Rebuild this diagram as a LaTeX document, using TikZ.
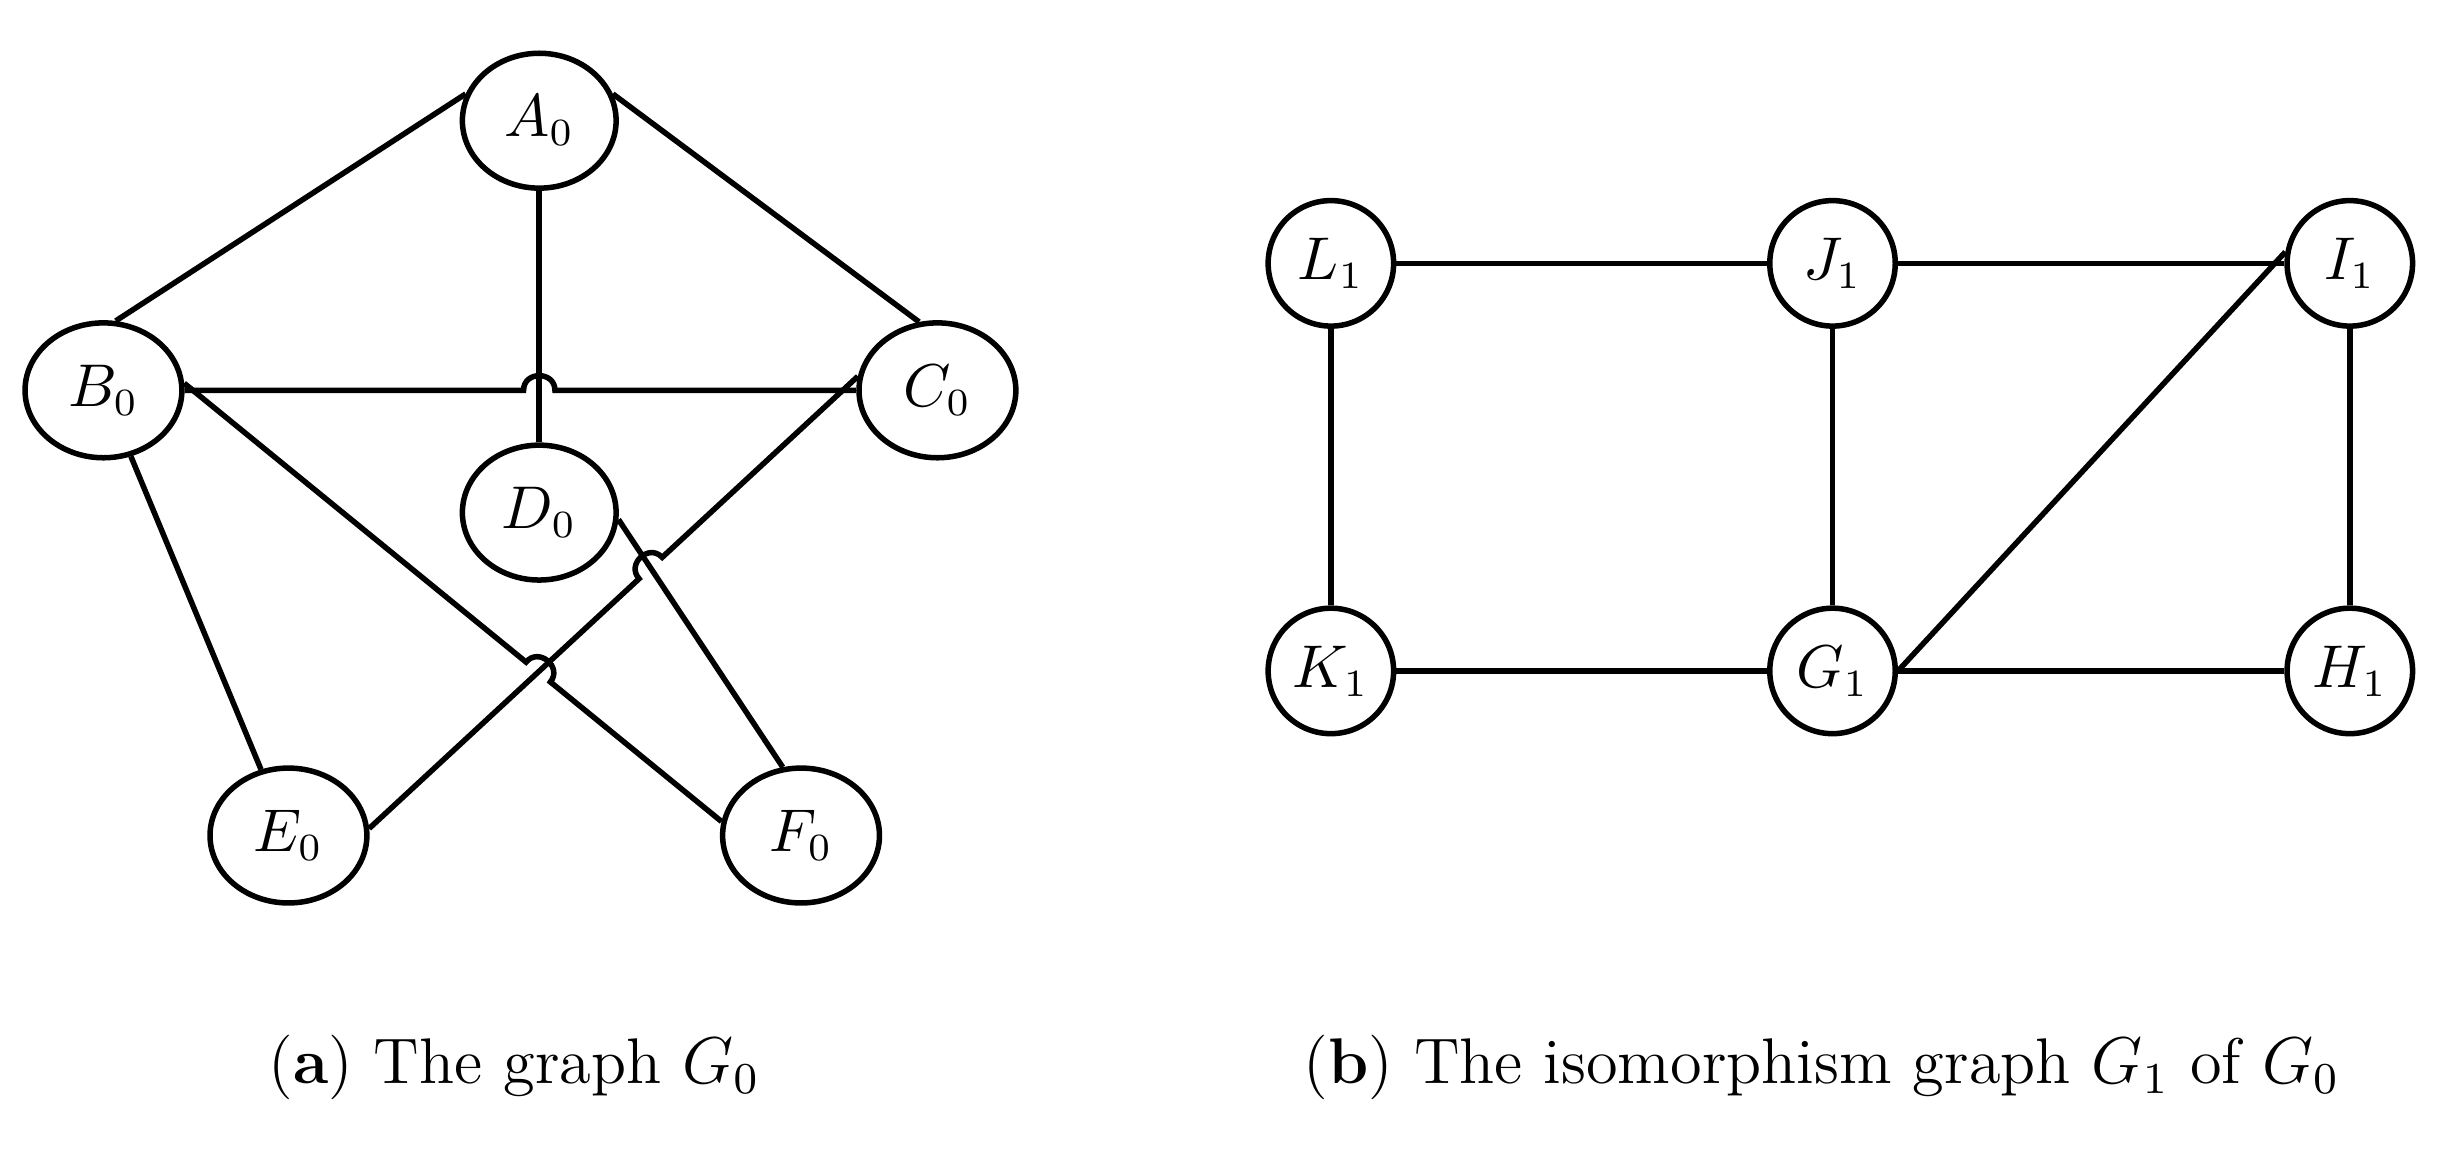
\documentclass[tikz,border=0pt]{standalone}
\usetikzlibrary{shapes.geometric,intersections,calc}
\begin{document}
\begin{tikzpicture}[x=0.01cm,y=-0.01cm,line width=1pt,
  el/.style={draw,ellipse,inner sep=0pt,minimum width=0.98cm,minimum height=0.86cm,font=\fontsize{10.5}{12}\selectfont},
  ci/.style={draw,circle,inner sep=0pt,minimum size=0.8cm,font=\fontsize{10.5}{12}\selectfont},
  captxt/.style={font=\fontsize{11.7}{14}\selectfont}]
\useasboundingbox (0,0) rectangle (1568,737);
\node[el] (A0) at (344,77) {$A_0$};
\node[el,minimum width=1cm] (B0) at (66,249) {$B_0$};
\node[el,minimum width=1cm] (C0) at (598,249) {$C_0$};
\node[el] (D0) at (344,327) {$D_0$};
\node[el,minimum width=1cm] (E0) at (184,533) {$E_0$};
\node[el,minimum width=1cm] (F0) at (511,533) {$F_0$};
\draw (A0.160) -- (B0.80);
\draw (A0.20) -- (C0.105);
\draw (A0) -- (D0);
\draw (B0) -- (E0);
\draw (D0.-5) -- (F0.105);
\path[name path=ad] (A0) -- (D0);
\path[name path=bc] (B0) -- (C0);
\path[name path=ce] (C0.170) -- (E0.5);
\path[name path=df] (D0.-5) -- (F0.105);
\path[name path=bf] (B0.5) -- (F0.170);
\path[name intersections={of=ad and bc,by=X1}];
\path[name intersections={of=ce and df,by=X2}];
\path[name intersections={of=ce and bf,by=X3}];
\coordinate (X1a) at ($(X1)!0.1cm!(B0)$);
\coordinate (X1b) at ($(X1)!0.1cm!(C0)$);
\coordinate (X2a) at ($(X2)!0.1cm!(C0.170)$);
\coordinate (X2b) at ($(X2)!0.1cm!(E0.5)$);
\coordinate (X3a) at ($(X3)!0.1cm!(B0.5)$);
\coordinate (X3b) at ($(X3)!0.1cm!(F0.170)$);
\draw (B0) -- (X1a) to[bend left=90,looseness=1.6] (X1b) -- (C0);
\draw (C0.170) -- (X2a) to[bend right=90,looseness=1.6] (X2b) -- (E0.5);
\draw (B0.5) -- (X3a) to[bend left=90,looseness=1.6] (X3b) -- (F0.170);
\node[ci] (L1) at (849,168) {$L_1$};
\node[ci] (J1) at (1169,168) {$J_1$};
\node[ci] (I1) at (1499,168) {$I_1$};
\node[ci] (K1) at (849,428) {$K_1$};
\node[ci] (G1) at (1169,428) {$G_1$};
\node[ci] (H1) at (1499,428) {$H_1$};
\draw (L1) -- (J1);
\draw (J1) -- (I1);
\draw (L1) -- (K1);
\draw (J1) -- (G1);
\draw (I1) -- (H1);
\draw (K1) -- (G1);
\draw (G1) -- (H1);
\draw (G1.east) -- (I1.170);
\node[captxt] (capa) at (328,681) {(\textbf{a}) The graph $G_0$};
\node[captxt] (capb) at (1162,681) {(\textbf{b}) The isomorphism graph $G_1$ of $G_0$};
\end{tikzpicture}
\end{document}
